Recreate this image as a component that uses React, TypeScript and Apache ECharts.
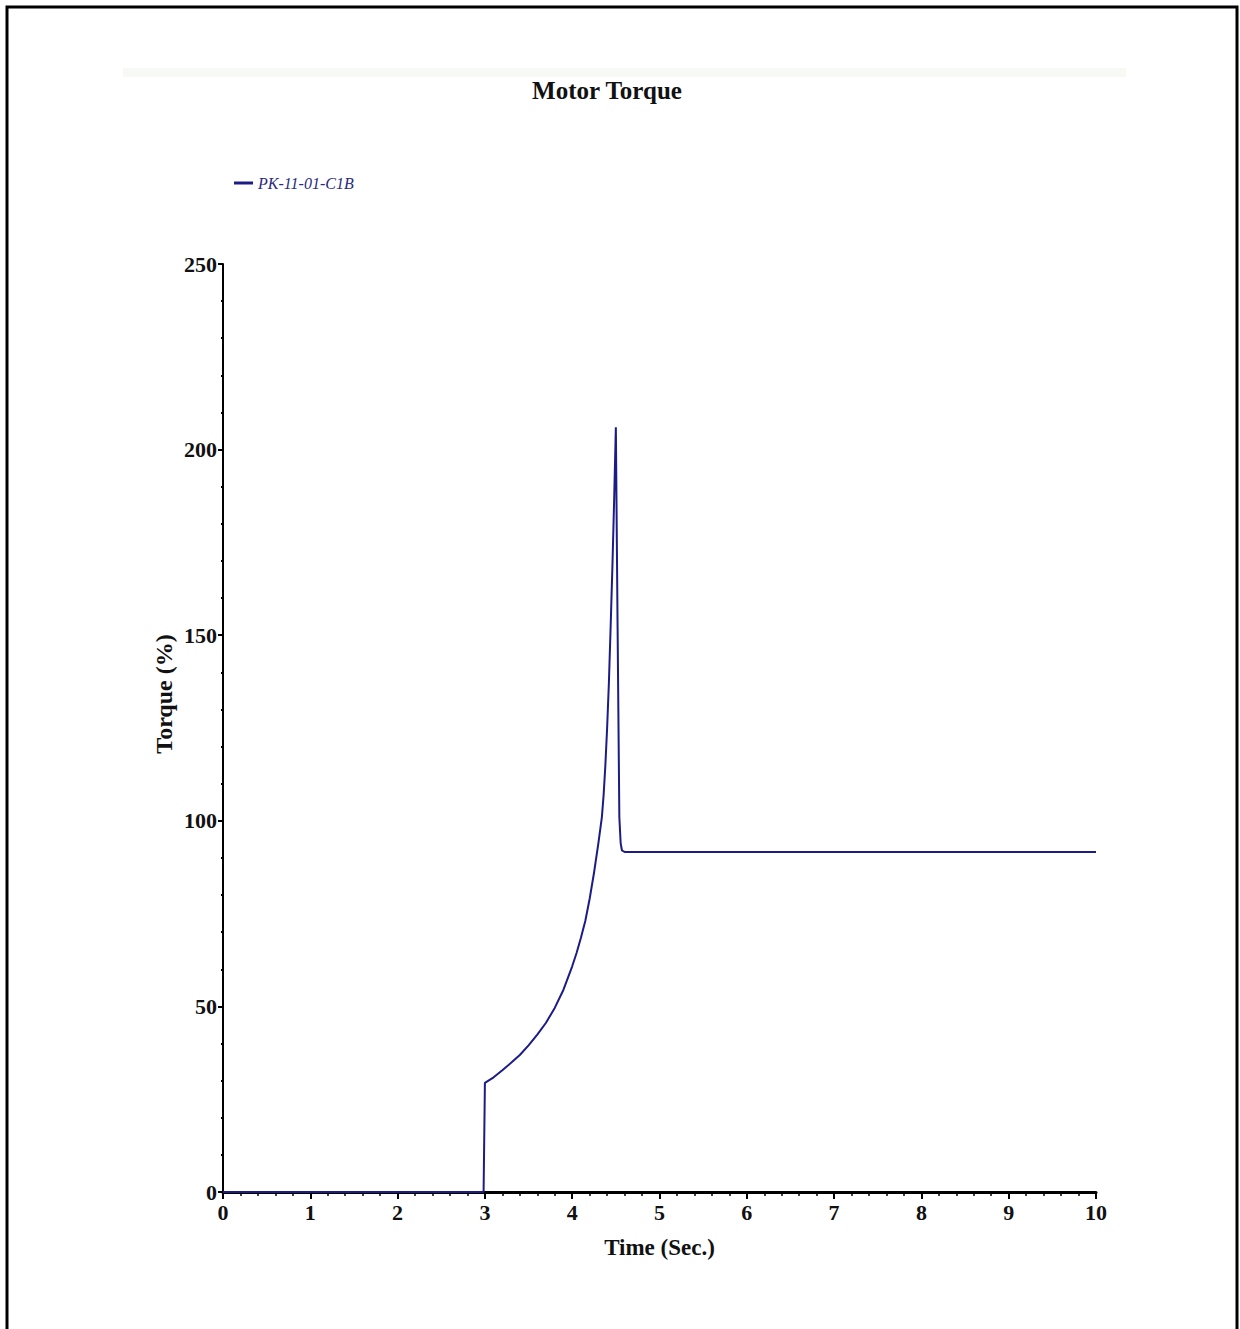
import React, { useEffect, useRef } from "react";
import * as echarts from "echarts";

const chartTitle = "Motor Torque";
const seriesName = "PK-11-01-C1B";
const xAxisName = "Time (Sec.)";
const yAxisName = "Torque (%)";

// time (s)
const timeValues = [
  0, 2.985, 3.0, 3.1, 3.2, 3.3, 3.4, 3.5, 3.6, 3.7, 3.8, 3.9, 4.0, 4.05, 4.1, 4.15,
  4.2, 4.25, 4.3, 4.34, 4.36, 4.38, 4.4, 4.42, 4.44, 4.46, 4.48, 4.5, 4.52, 4.54,
  4.555, 4.57, 4.6, 10,
];
// torque (%)
const torqueValues = [
  0, 0, 29.4, 30.9, 32.8, 34.8, 36.9, 39.5, 42.4, 45.6, 49.6, 54.5, 60.8, 64.4, 68.5, 73,
  79, 86, 94, 101, 107, 115, 125, 137, 152, 168, 186, 206, 152, 101,
  94, 92, 91.6, 91.6,
];

const xMin = 0;
const xMax = 10;
const yMin = 0;
const yMax = 250;

export default function App() {
  const ref = useRef<HTMLDivElement>(null);

  useEffect(() => {
    document.body.style.margin = "0";
    if (!ref.current) return;
    const chart = echarts.init(ref.current, undefined, { renderer: "svg" });
    const data = timeValues.map((t, i) => [t, torqueValues[i]]);
    const serif = "'Liberation Serif', 'Times New Roman', serif";
    const lineColor = "#1c1c86";

    chart.setOption({
      animation: false,
      backgroundColor: "#ffffff",
      title: {
        text: chartTitle,
        left: 602,
        textAlign: "center",
        top: 73,
        textStyle: {
          fontFamily: serif,
          fontWeight: "bold",
          fontSize: 25,
          color: "#111111",
        },
      },
      legend: {
        left: 229,
        top: 170,
        icon: "rect",
        itemWidth: 19,
        itemHeight: 3,
        itemGap: 10,
        itemStyle: { color: lineColor },
        textStyle: {
          fontFamily: serif,
          fontStyle: "italic",
          fontSize: 16,
          color: "#2a2a80",
        },
        data: [seriesName],
      },
      graphic: [
        {
          type: "rect",
          shape: { x: 123, y: 68, width: 1003, height: 9 },
          style: { fill: "#f7f9f4" },
          silent: true,
          z: -1,
        },
        {
          type: "rect",
          shape: { x: 7, y: 7, width: 1230, height: 1340 },
          style: { fill: "none", stroke: "#000000", lineWidth: 3 },
          silent: true,
        },
      ],
      grid: {
        left: 223,
        right: 144,
        top: 264,
        bottom: 137,
        containLabel: false,
      },
      xAxis: {
        type: "value",
        min: xMin,
        max: xMax,
        interval: 1,
        name: xAxisName,
        nameLocation: "middle",
        nameGap: 44,
        nameTextStyle: {
          fontFamily: serif,
          fontWeight: "bold",
          fontSize: 23,
          color: "#111111",
        },
        axisLine: { show: true, onZero: false, lineStyle: { color: "#000", width: 3 } },
        axisTick: { show: true, inside: false, length: 7, lineStyle: { color: "#000", width: 2 } },
        minorTick: { show: true, splitNumber: 5, length: 4, lineStyle: { color: "#000", width: 1.5 } },
        axisLabel: {
          margin: 9,
          fontFamily: serif,
          fontWeight: "bold",
          fontSize: 22,
          color: "#111111",
        },
        splitLine: { show: false },
      },
      yAxis: {
        type: "value",
        min: yMin,
        max: yMax,
        interval: 50,
        name: yAxisName,
        nameLocation: "middle",
        nameGap: 47,
        nameMoveOverlap: false,
        nameRotate: 90,
        nameTextStyle: {
          fontFamily: serif,
          fontWeight: "bold",
          fontSize: 24,
          color: "#111111",
          padding: [0, 0, 0, 68],
        },
        axisLine: { show: true, onZero: false, lineStyle: { color: "#000", width: 2 } },
        axisTick: { show: true, inside: false, length: 5, lineStyle: { color: "#000", width: 2 } },
        minorTick: { show: true, splitNumber: 5, length: 2, lineStyle: { color: "#000", width: 2 } },
        axisLabel: {
          margin: 6,
          fontFamily: serif,
          fontWeight: "bold",
          fontSize: 22,
          color: "#111111",
        },
        splitLine: { show: false },
      },
      series: [
        {
          name: seriesName,
          type: "line",
          data,
          showSymbol: false,
          symbol: "none",
          itemStyle: { color: lineColor },
          lineStyle: { color: lineColor, width: 2 },
          clip: true,
        },
      ],
    });

    return () => chart.dispose();
  }, []);

  return <div ref={ref} style={{ width: 1240, height: 1329 }} />;
}
